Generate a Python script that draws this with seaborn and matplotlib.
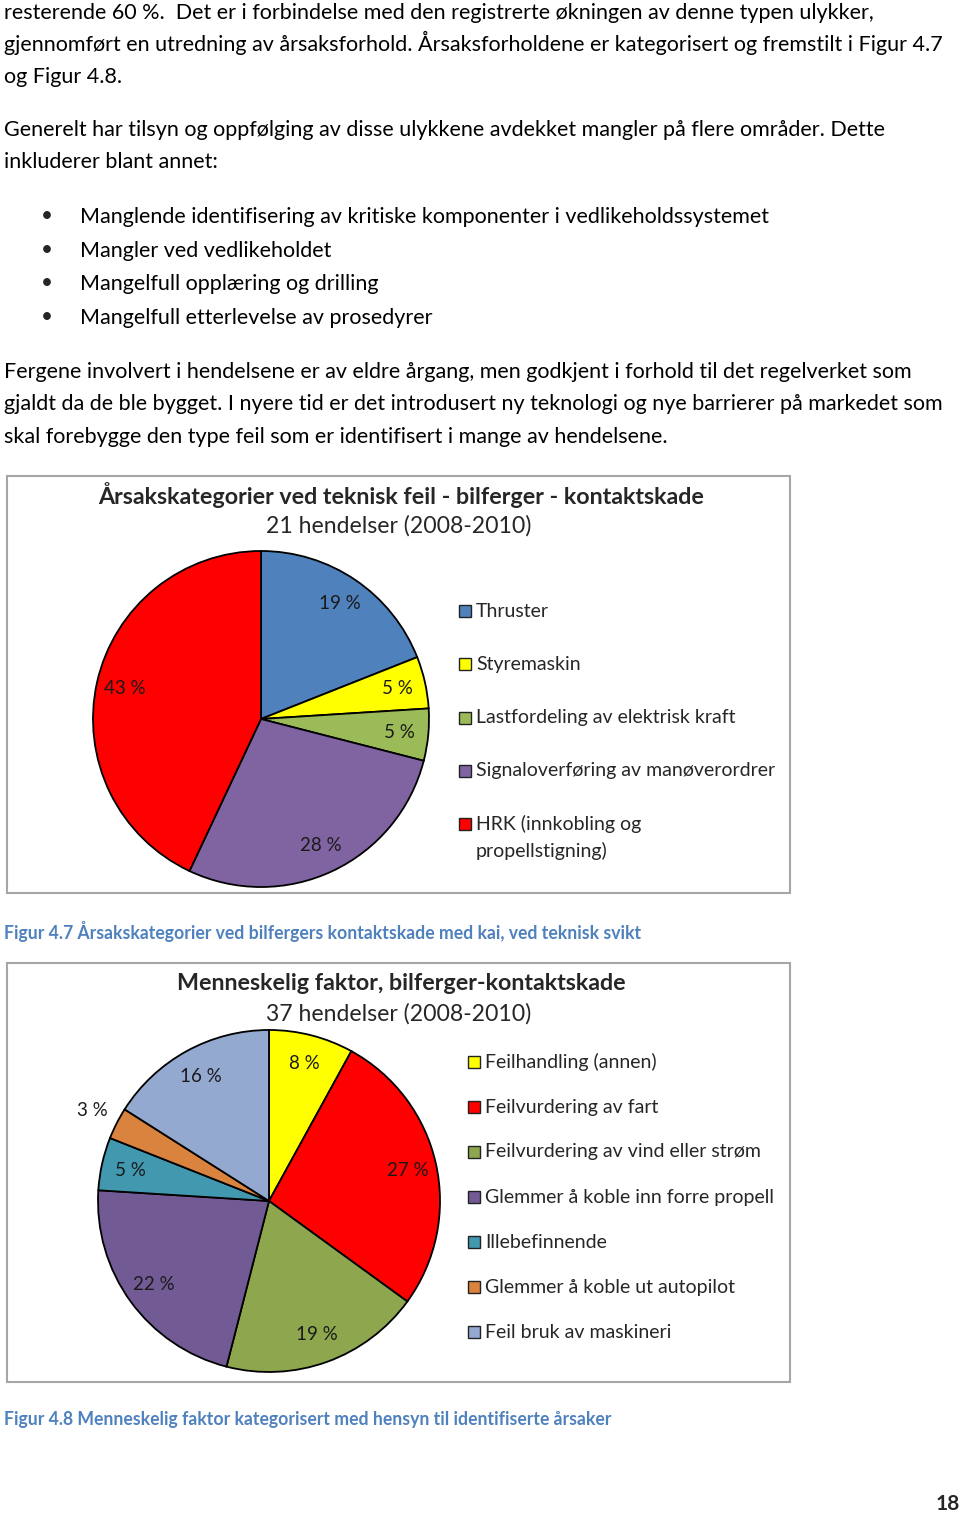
import numpy as np
import pandas as pd
import seaborn as sns
import matplotlib.pyplot as plt
from matplotlib.patches import Rectangle

sns.set_theme(style="white")
plt.rcParams['font.family'] = ['Lato', 'DejaVu Sans']

W, H = 960, 1514

# chart 1 data
cat1 = ['Thruster', 'Styremaskin', 'Lastfordeling av elektrisk kraft',
        'Signaloverføring av manøverordrer', 'HRK (innkobling og\npropellstigning)']
pct1 = [19, 5, 5, 28, 43]
col1 = ['#4F81BD', '#FFFF00', '#9BBB59', '#8064A2', '#FF0000']

# chart 2 data
cat2 = ['Feilhandling (annen)', 'Feilvurdering av fart', 'Feilvurdering av vind eller strøm',
        'Glemmer å koble inn forre propell', 'Illebefinnende',
        'Glemmer å koble ut autopilot', 'Feil bruk av maskineri']
pct2 = [8, 27, 19, 22, 5, 3, 16]
col2 = ['#FFFF00', '#FF0000', '#8EA64E', '#725A94', '#4198AF', '#DA833F', '#94A9D0']

para1 = ["resterende 60 %.  Det er i forbindelse med den registrerte økningen av denne typen ulykker,",
         "gjennomført en utredning av årsaksforhold. Årsaksforholdene er kategorisert og fremstilt i Figur 4.7",
         "og Figur 4.8."]
para2 = ["Generelt har tilsyn og oppfølging av disse ulykkene avdekket mangler på flere områder. Dette",
         "inkluderer blant annet:"]
bullets = ["Manglende identifisering av kritiske komponenter i vedlikeholdssystemet",
           "Mangler ved vedlikeholdet",
           "Mangelfull opplæring og drilling",
           "Mangelfull etterlevelse av prosedyrer"]
para3 = ["Fergene involvert i hendelsene er av eldre årgang, men godkjent i forhold til det regelverket som",
         "gjaldt da de ble bygget. I nyere tid er det introdusert ny teknologi og nye barrierer på markedet som",
         "skal forebygge den type feil som er identifisert i mange av hendelsene."]

fig = plt.figure(figsize=(W / 100, H / 100), dpi=100)


def fx(x):
    return x / W


def fy(y):
    return 1 - y / H


# body text, positioned by baseline
body = dict(fontsize=15.5, color='black', va='baseline', ha='left')
for i, line in enumerate(para1):
    fig.text(fx(4), fy(19 + 32 * i), line, **body)
for i, line in enumerate(para2):
    fig.text(fx(4), fy(136 + 32.5 * i), line, **body)
for i, line in enumerate(bullets):
    y = 223 + 33.7 * i
    fig.text(fx(47), fy(y - 7), '•', fontsize=15, ha='center', va='center')
    fig.text(fx(80), fy(y), line, **body)
for i, line in enumerate(para3):
    fig.text(fx(4), fy(378 + 32.5 * i), line, **body)


def draw_pie(box, center, r, pct, colors, cats, title, sub, leg_xy, spacing, caption, cap_y):
    x0, y0, x1, y1 = box
    fig.patches.append(Rectangle((fx(x0), fy(y1)), fx(x1 - x0), (y1 - y0) / H,
                                 transform=fig.transFigure, fill=False,
                                 edgecolor='#A6A6A6', linewidth=1.5))
    cx, cy = center
    ax = fig.add_axes([fx(cx - r), fy(cy + r), 2 * r / W, 2 * r / H])
    wedges, texts, autos = ax.pie(pct, colors=colors, startangle=90, counterclock=False,
                                  autopct=lambda p: f'{p:.0f} %', pctdistance=0.83,
                                  wedgeprops=dict(edgecolor='black', linewidth=1.3),
                                  textprops=dict(fontsize=13.5, color='#1a1a1a'))
    for w, t, v in zip(wedges, autos, pct):
        w.set_clip_on(False)
        if v < 4:
            ang = np.deg2rad((w.theta1 + w.theta2) / 2)
            t.set_position((1.16 * np.cos(ang), 1.16 * np.sin(ang)))
    ax.set_xlim(-1, 1)
    ax.set_ylim(-1, 1)
    ax.set_aspect('equal')
    ax.axis('off')
    fig.text(fx(401), fy(title[1]), title[0], fontsize=16.75, fontweight='bold',
             ha='center', va='center')
    fig.text(fx(399), fy(sub[1]), sub[0], fontsize=16.6, ha='center', va='center')
    lx, ly = leg_xy
    for i, (c, name) in enumerate(zip(colors, cats)):
        yy = ly + spacing * i
        fig.patches.append(Rectangle((fx(lx - 6), fy(yy + 6)), 12 / W, 12 / H,
                                     transform=fig.transFigure, facecolor=c,
                                     edgecolor='#222222', linewidth=1))
        lines = name.split('\n')
        for j, ln in enumerate(lines):
            fig.text(fx(lx + 11), fy(yy + 27 * j), ln, fontsize=14, ha='left', va='center')
    fig.text(fx(4), fy(cap_y), caption, fontsize=12.7, fontweight='bold',
             color='#4F81BD', ha='left', va='center')


draw_pie((7, 476, 790, 893), (261, 719), 168, pct1, col1, cat1,
         ('Årsakskategorier ved teknisk feil - bilferger - kontaktskade', 495),
         ('21 hendelser (2008-2010)', 526), (465, 611), 53.3,
         'Figur 4.7 Årsakskategorier ved bilfergers kontaktskade med kai, ved teknisk svikt', 931)

draw_pie((7, 963, 790, 1382), (269, 1201), 171, pct2, col2, cat2,
         ('Menneskelig faktor, bilferger-kontaktskade', 983),
         ('37 hendelser (2008-2010)', 1014), (474, 1062), 45,
         'Figur 4.8 Menneskelig faktor kategorisert med hensyn til identifiserte årsaker', 1419)

fig.text(fx(960), fy(1504), '18', fontsize=15, fontweight='bold', ha='right', va='center')

fig.savefig('out.png', dpi=100, facecolor='white')
